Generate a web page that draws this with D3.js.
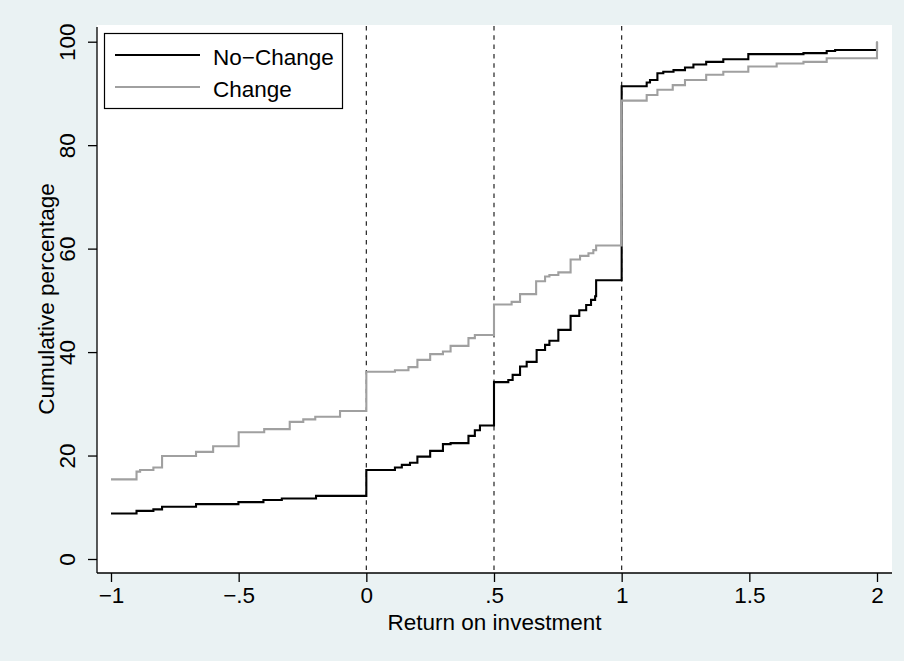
<!DOCTYPE html>
<html>
<head>
<meta charset="utf-8">
<script src="https://cdn.jsdelivr.net/npm/d3@7"></script>
<style>
  html, body { margin: 0; padding: 0; background: #eaf2f3; }
  svg { display: block; font-family: "Liberation Sans", Arial, sans-serif; }
</style>
</head>
<body>
<svg id="chart" width="904" height="661"></svg>
<script>
// Cumulative distribution of return on investment, by group (step functions)
const seriesNames = ["No\u2212Change", "Change"];

const noChangeX = [-1, -0.9, -0.834, -0.8, -0.667, -0.501, -0.403, -0.331, -0.197, 0,
  0.112, 0.139, 0.171, 0.2, 0.25, 0.3, 0.33, 0.4, 0.425, 0.445, 0.5,
  0.556, 0.573, 0.602, 0.628, 0.667, 0.7, 0.717, 0.752, 0.8, 0.834, 0.861, 0.88, 0.896, 0.9, 1,
  1.098, 1.111, 1.14, 1.163, 1.203, 1.248, 1.281, 1.331, 1.398, 1.496, 1.712, 1.803, 1.836, 2];
const noChangeY = [8.8, 9.3, 9.6, 10.1, 10.6, 11.0, 11.4, 11.7, 12.2, 17.2,
  17.7, 18.2, 18.6, 19.8, 20.9, 22.2, 22.4, 23.8, 24.9, 25.8, 34.2,
  34.6, 35.6, 37.2, 38.1, 40.4, 41.4, 42.2, 44.3, 47.0, 48.1, 49.1, 50.1, 50.8, 53.9, 91.4,
  92.1, 92.6, 93.9, 94.2, 94.5, 95.0, 95.6, 96.1, 96.6, 97.6, 97.8, 98.2, 98.4, 100];

const changeX = [-1, -0.9, -0.886, -0.834, -0.8, -0.667, -0.6, -0.5, -0.4, -0.3, -0.247, -0.2, -0.103, 0,
  0.112, 0.165, 0.2, 0.25, 0.3, 0.33, 0.4, 0.425, 0.5,
  0.569, 0.602, 0.665, 0.7, 0.717, 0.752, 0.8, 0.837, 0.87, 0.889, 0.9, 1,
  1.098, 1.14, 1.2, 1.248, 1.331, 1.398, 1.496, 1.607, 1.712, 1.803, 2];
const changeY = [15.4, 16.9, 17.2, 17.7, 19.9, 20.7, 21.8, 24.5, 25.1, 26.5, 27.0, 27.5, 28.6, 36.2,
  36.5, 37.1, 38.5, 39.6, 40.1, 41.2, 42.7, 43.3, 49.2,
  49.7, 51.2, 53.7, 54.6, 54.9, 55.4, 57.9, 58.6, 59.1, 59.7, 60.6, 88.6,
  89.7, 90.7, 91.6, 92.6, 93.6, 94.2, 95.2, 95.8, 96.1, 96.8, 100];

const xTicks = [-1, -0.5, 0, 0.5, 1, 1.5, 2];
const xTickLabels = ["\u22121", "\u2212.5", "0", ".5", "1", "1.5", "2"];
const yTicks = [0, 20, 40, 60, 80, 100];
const yTickLabels = ["0", "20", "40", "60", "80", "100"];
const refLines = [0, 0.5, 1];

const xTitle = "Return on investment";
const yTitle = "Cumulative percentage";

const svg = d3.select("#chart");
const W = 904, H = 661;
const plot = { left: 97, right: 892, top: 25, bottom: 573 };
const fontSize = 22.5;

svg.append("rect").attr("width", W).attr("height", H).attr("fill", "#eaf2f3");
svg.append("rect")
  .attr("x", plot.left).attr("y", plot.top)
  .attr("width", plot.right - plot.left).attr("height", plot.bottom - plot.top)
  .attr("fill", "#ffffff");

const x = d3.scaleLinear().domain([-1, 2]).range([111, 877]);
const y = d3.scaleLinear().domain([0, 100]).range([559, 41.7]);

// reference lines
svg.append("g").selectAll("line").data(refLines).join("line")
  .attr("x1", d => x(d)).attr("x2", d => x(d))
  .attr("y1", plot.top + 1).attr("y2", plot.bottom)
  .attr("stroke", "#222").attr("stroke-width", 1.2)
  .attr("stroke-dasharray", "4.5,4.8");

// step lines
const line = d3.line()
  .x(d => x(d[0])).y(d => y(d[1]))
  .curve(d3.curveStepAfter);

const series = [
  { name: seriesNames[0], pts: d3.zip(noChangeX, noChangeY), color: "#000000" },
  { name: seriesNames[1], pts: d3.zip(changeX, changeY), color: "#a0a0a0" }
];

svg.append("g").selectAll("path").data(series).join("path")
  .attr("d", d => line(d.pts))
  .attr("fill", "none")
  .attr("stroke", d => d.color)
  .attr("stroke-width", 2.1)
  .attr("stroke-linejoin", "miter");

// axes
const xAxis = d3.axisBottom(x).tickValues(xTicks)
  .tickFormat((d, i) => xTickLabels[i]).tickSize(9).tickPadding(5).tickSizeOuter(0);
const gx = svg.append("g").attr("transform", `translate(0,${plot.bottom})`).call(xAxis);
gx.select(".domain").remove();
gx.selectAll(".tick line").attr("stroke", "#000").attr("stroke-width", 1.3);
gx.selectAll(".tick text")
  .attr("font-size", fontSize).attr("fill", "#000")
  .attr("dy", null).attr("y", 30);

const yAxis = d3.axisLeft(y).tickValues(yTicks)
  .tickFormat((d, i) => yTickLabels[i]).tickSize(9).tickSizeOuter(0);
const gy = svg.append("g").attr("transform", `translate(${plot.left},0)`).call(yAxis);
gy.select(".domain").remove();
gy.selectAll(".tick line").attr("stroke", "#000").attr("stroke-width", 1.3);
gy.selectAll(".tick text")
  .attr("font-size", fontSize).attr("fill", "#000")
  .attr("x", null).attr("dy", null)
  .attr("text-anchor", "middle")
  .attr("transform", "translate(-22,0) rotate(-90)");

// axis lines
svg.append("line").attr("x1", plot.left).attr("x2", plot.right)
  .attr("y1", plot.bottom).attr("y2", plot.bottom)
  .attr("stroke", "#000").attr("stroke-width", 1.3);
svg.append("line").attr("x1", plot.left).attr("x2", plot.left)
  .attr("y1", plot.top + 2).attr("y2", plot.bottom)
  .attr("stroke", "#000").attr("stroke-width", 1.3);

// axis titles
svg.append("text")
  .attr("x", (plot.left + plot.right) / 2).attr("y", 629.5)
  .attr("text-anchor", "middle").attr("font-size", fontSize)
  .text(xTitle);
svg.append("text")
  .attr("transform", `translate(53.5,${(plot.top + plot.bottom) / 2}) rotate(-90)`)
  .attr("text-anchor", "middle").attr("font-size", fontSize)
  .text(yTitle);

// legend
const lg = svg.append("g").attr("transform", "translate(104,33)");
lg.append("rect").attr("x", 0.5).attr("y", 0.5).attr("width", 238).attr("height", 75)
  .attr("fill", "#fff").attr("stroke", "#000").attr("stroke-width", 1.2);
const items = lg.selectAll("g.item").data(series).join("g")
  .attr("class", "item")
  .attr("transform", (d, i) => `translate(0,${22 + i * 32})`);
items.append("line").attr("x1", 11).attr("x2", 96).attr("y1", 0).attr("y2", 0)
  .attr("stroke", d => d.color).attr("stroke-width", 2);
items.append("text").attr("x", 109).attr("y", 9.5)
  .attr("font-size", fontSize).text(d => d.name);
</script>
</body>
</html>
